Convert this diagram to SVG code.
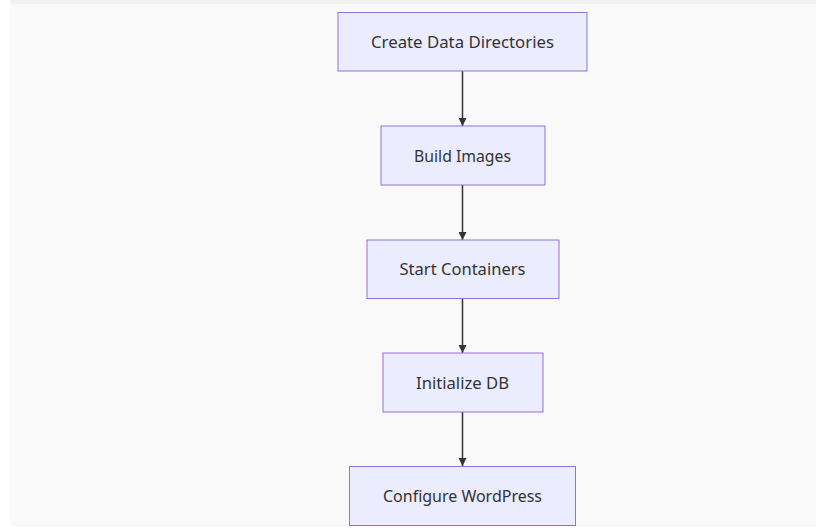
<svg xmlns="http://www.w3.org/2000/svg" width="816" height="530" viewBox="0 0 816 530">
<style>
.node rect{fill:#ECECFF;stroke:#9370DB;stroke-width:1}
.node text{font-family:"Noto Sans","Open Sans",sans-serif;font-size:16px;fill:#333;text-anchor:middle;dominant-baseline:central}
.edge{stroke:#333;stroke-width:1.5;fill:none;marker-end:url(#arrow)}
</style>
<defs>
<marker id="arrow" viewBox="0 0 10 10" refX="10" refY="5" markerWidth="8" markerHeight="8" markerUnits="userSpaceOnUse" orient="auto">
<path d="M0,0 L10,5 L0,10 z" fill="#333"/>
</marker>
</defs>
<rect x="0" y="0" width="816" height="530" fill="#ffffff"/>
<path d="M10,0 H816 V527 H18 Q10,527 10,519 Z" fill="#f9f9f9"/>
<rect x="10" y="0" width="806" height="4" fill="#f1f1f1"/>
<g id="connectors">
<line class="edge" x1="462.5" y1="71" x2="462.5" y2="126"/>
<line class="edge" x1="462.5" y1="185" x2="462.5" y2="240"/>
<line class="edge" x1="462.5" y1="298" x2="462.5" y2="353"/>
<line class="edge" x1="462.5" y1="412" x2="462.5" y2="466"/>
</g>
<g id="node-create" class="node">
<rect x="338" y="12.5" width="249" height="58.5"/>
<text x="462.5" y="42" textLength="183" lengthAdjust="spacingAndGlyphs">Create Data Directories</text>
</g>
<g id="node-build" class="node">
<rect x="381" y="126" width="164" height="59"/>
<text x="462.5" y="156" textLength="97" lengthAdjust="spacingAndGlyphs">Build Images</text>
</g>
<g id="node-start" class="node">
<rect x="367" y="240" width="192" height="58.5"/>
<text x="462.5" y="269" textLength="126" lengthAdjust="spacingAndGlyphs">Start Containers</text>
</g>
<g id="node-init" class="node">
<rect x="383" y="353" width="160" height="59"/>
<text x="462.5" y="383" textLength="93" lengthAdjust="spacingAndGlyphs">Initialize DB</text>
</g>
<g id="node-config" class="node">
<rect x="349.5" y="466.5" width="226" height="59"/>
<text x="462.5" y="496" textLength="159" lengthAdjust="spacingAndGlyphs">Configure WordPress</text>
</g>
</svg>
